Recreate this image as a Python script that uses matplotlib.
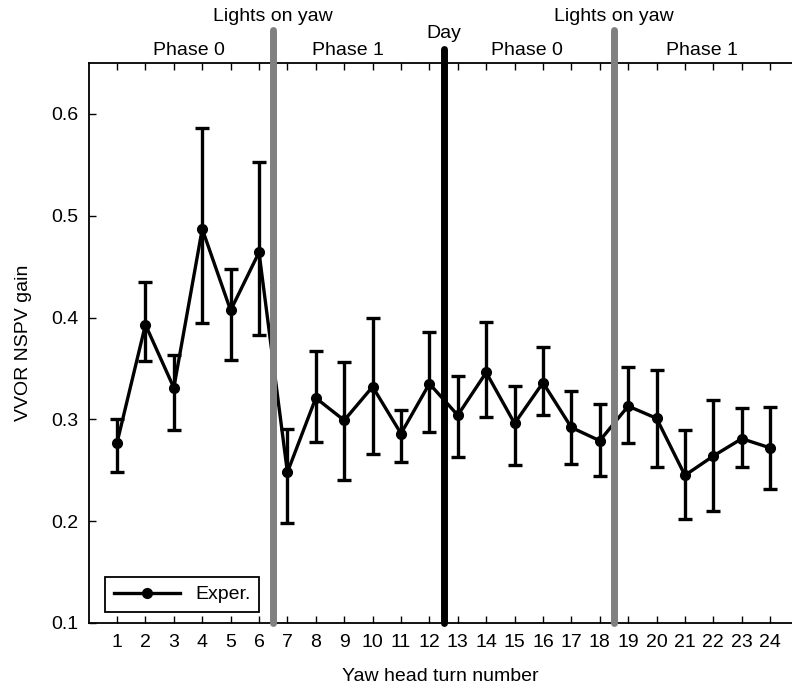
import numpy as np
import matplotlib
matplotlib.use("Agg")
from matplotlib import pyplot as plt
from matplotlib.lines import Line2D

plt.rcParams['font.family'] = ['Liberation Sans', 'DejaVu Sans']

turns = np.arange(1, 25)
gain = [0.277, 0.393, 0.331, 0.487, 0.407, 0.464, 0.248, 0.321, 0.299, 0.332, 0.286, 0.335,
        0.304, 0.346, 0.296, 0.336, 0.292, 0.279, 0.313, 0.301, 0.245, 0.264, 0.281, 0.272]
low = [0.248, 0.357, 0.290, 0.395, 0.358, 0.383, 0.198, 0.278, 0.240, 0.266, 0.258, 0.288,
       0.263, 0.302, 0.255, 0.304, 0.256, 0.244, 0.277, 0.253, 0.202, 0.210, 0.253, 0.232]
high = [0.300, 0.435, 0.363, 0.586, 0.448, 0.553, 0.291, 0.367, 0.356, 0.400, 0.309, 0.386,
        0.343, 0.396, 0.333, 0.371, 0.328, 0.315, 0.351, 0.348, 0.290, 0.319, 0.311, 0.312]

# separators and labels above the axes
light_x = [6.5, 18.5]
day_x = 12.5
phase_labels = ['Phase 0', 'Phase 1', 'Phase 0', 'Phase 1']
phase_x = [3.53, 9.13, 15.45, 21.6]

gain = np.array(gain)
yerr = [gain - np.array(low), np.array(high) - gain]
fs = 14

fig = plt.figure(figsize=(7.92, 6.88), dpi=100)
ax = fig.add_axes([0.113, 0.0945, 0.887, 0.814])

ax.errorbar(turns, gain, yerr=yerr, color='black', lw=2.4, marker='o', ms=7,
            elinewidth=2.4, capsize=4.7, capthick=2.4, zorder=3)

for x in light_x:
    ax.plot([x, x], [0.1, 0.682], color='#808080', lw=5, solid_capstyle='round',
            clip_on=False, zorder=4)
    ax.text(x, 0.696, 'Lights on yaw', ha='center', va='center', fontsize=fs)
ax.plot([day_x, day_x], [0.1, 0.664], color='black', lw=5, solid_capstyle='round',
        clip_on=False, zorder=4)
ax.text(day_x, 0.679, 'Day', ha='center', va='center', fontsize=fs)
for lab, x in zip(phase_labels, phase_x):
    ax.text(x, 0.662, lab, ha='center', va='center', fontsize=fs)

ax.set_xlim(0.03, 24.77)
ax.set_ylim(0.1, 0.65)
ax.set_xticks(turns)
ax.set_yticks([0.1, 0.2, 0.3, 0.4, 0.5, 0.6])
ax.tick_params(direction='in', length=5, width=1, top=True, labelsize=fs, pad=8)
ax.spines['right'].set_visible(False)
for s in ['left', 'top', 'bottom']:
    ax.spines[s].set_linewidth(1.3)

ax.set_xlabel('Yaw head turn number', fontsize=fs, labelpad=12)
ax.set_ylabel('VVOR NSPV gain', fontsize=fs, labelpad=14)

handle = Line2D([], [], color='black', lw=2.4, marker='o', ms=7)
leg = ax.legend([handle], ['Exper.'], loc='lower left', fontsize=fs, fancybox=False,
                framealpha=1, edgecolor='black', handlelength=3.4, borderpad=0.45,
                bbox_to_anchor=(0.008, 0.002))
leg.get_frame().set_linewidth(1.3)

fig.savefig('out.png', dpi=100)
